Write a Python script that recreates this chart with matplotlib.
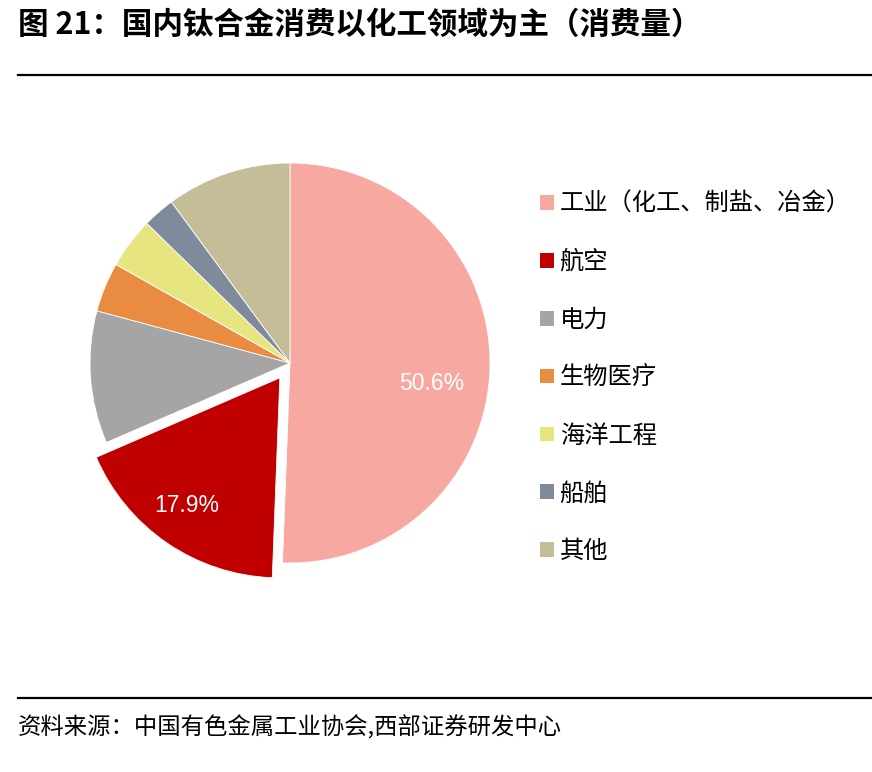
"""国内钛合金消费结构饼图 (消费量)."""
import matplotlib
matplotlib.use("Agg")
import matplotlib.pyplot as plt
import numpy as np
from matplotlib.patches import Patch

plt.rcParams["font.family"] = ["Noto Sans CJK SC", "DejaVu Sans"]

categories = ["工业（化工、制盐、冶金）", "航空", "电力", "生物医疗", "海洋工程", "船舶", "其他"]
shares = [50.6, 17.9, 10.7, 4.0, 4.1, 2.6, 10.1]
colors = ["#F7A8A0", "#C00000", "#A5A5A5", "#E98C42", "#E6E57F", "#7F8A9B", "#C5BC98"]
explode = [0, 0.09, 0, 0, 0, 0, 0]
shown_labels = {0: "50.6%", 1: "17.9%"}

W, H = 872, 772
fig = plt.figure(figsize=(W / 100, H / 100), dpi=100)

# pie axes: centre (290, 363) px, radius 200 px
cx, cy, half = 290, 363, 230
ax = fig.add_axes([(cx - half) / W, (H - cy - half) / H, 2 * half / W, 2 * half / H])
wedges, _ = ax.pie(shares, colors=colors, explode=explode, startangle=90,
                   counterclock=False, radius=1.0,
                   wedgeprops=dict(edgecolor="white", linewidth=0.6))
ax.set_xlim(-half / 200, half / 200)
ax.set_ylim(-half / 200, half / 200)
ax.set_aspect("equal")
ax.axis("off")

# value labels (Excel-style placement)
label_pos = {0: (0.71, -0.105), 1: (-0.515, -0.71)}
for i, txt in shown_labels.items():
    x, y = label_pos[i]
    ax.text(x, y, txt, color="white", fontsize=16.5, ha="center", va="center",
            family=["Liberation Sans", "DejaVu Sans"])

# legend
handles = [Patch(facecolor=c, edgecolor="none") for c in colors]
fig.legend(handles, categories, loc="upper left",
           bbox_to_anchor=(528 / W, 1 - 179 / H), frameon=False,
           fontsize=17.5, labelspacing=1.31, handlelength=0.55,
           handleheight=0.55, handletextpad=0.25, borderpad=0)

# title, rules, source
fig.text(18 / W, 1 - 25 / H, "图 21：国内钛合金消费以化工领域为主（消费量）",
         fontsize=22, fontweight="bold", ha="left", va="center")
fig.add_artist(plt.Line2D([18 / W, 1.0], [1 - 75 / H] * 2, color="black", lw=1.6))
fig.add_artist(plt.Line2D([18 / W, 1.0], [1 - 698 / H] * 2, color="black", lw=1.6))
fig.text(18 / W, 1 - 727 / H, "资料来源：中国有色金属工业协会,西部证券研发中心",
         fontsize=16.8, ha="left", va="center")

fig.savefig("out.png", dpi=100)
